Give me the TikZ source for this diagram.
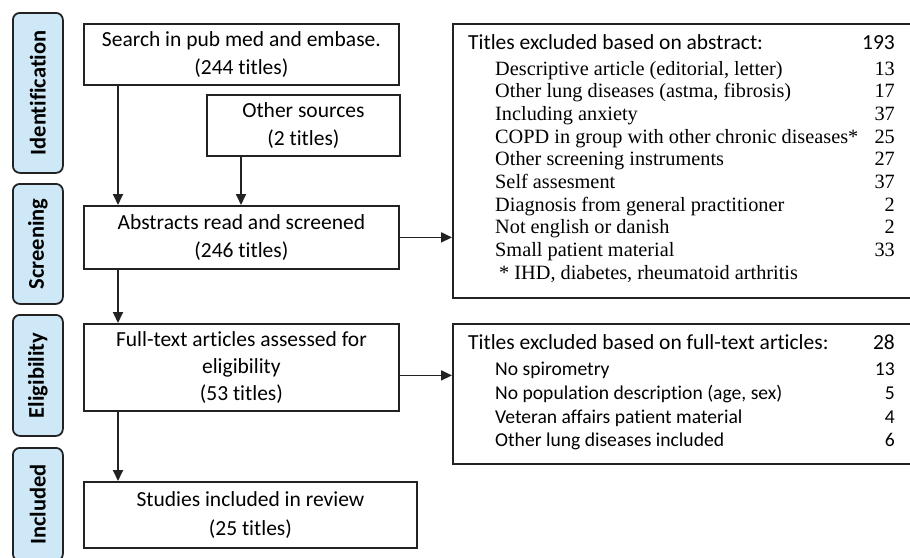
\documentclass[tikz,border=0pt]{standalone}
\usepackage{fontspec}
\setmainfont{Carlito}[Ligatures=NoCommon]
\newfontfamily\itemserif{Liberation Serif}
\usetikzlibrary{arrows.meta}
\definecolor{phaseblue}{HTML}{CFE8F8}
\definecolor{ink}{HTML}{222222}
\begin{document}
\begin{tikzpicture}[x=1pt,y=-1pt,
  box/.style={draw=ink, line width=1.8pt, fill=white, align=center,
    font=\fontsize{21.5}{28.5}\selectfont, inner sep=0pt, anchor=north west},
  phase/.style={draw=ink, line width=1.8pt, fill=phaseblue, rounded corners=7pt,
    anchor=north west, inner sep=0pt},
  phasetext/.style={rotate=90, font=\bfseries\fontsize{22.5}{26}\selectfont},
  exbox/.style={draw=ink, line width=1.8pt, fill=white},
  arr/.style={-{Triangle[length=11pt,width=10pt]}, line width=1.8pt, draw=ink},
  hdr/.style={anchor=base west, inner sep=0pt, font=\fontsize{21.5}{24}\selectfont},
  num/.style={anchor=base east, inner sep=0pt, font=\fontsize{21.5}{24}\selectfont},
  sitem/.style={anchor=base west, inner sep=0pt, font=\itemserif\fontsize{20.3}{22}\selectfont},
  snum/.style={anchor=base east, inner sep=0pt, font=\itemserif\fontsize{20.3}{22}\selectfont},
  fitem/.style={anchor=base west, inner sep=0pt, font=\fontsize{19.6}{22}\selectfont},
  fnum/.style={anchor=base east, inner sep=0pt, font=\fontsize{19.6}{22}\selectfont}]
\useasboundingbox (0,0) rectangle (910,557);
\clip (0,0) rectangle (910,557);

% phase labels
\node[phase, minimum width=50pt, minimum height=160pt] (pid) at (12,12) {};
\node[phasetext] (tid) at (pid.center) {Identification};
\node[phase, minimum width=50pt, minimum height=120pt] (psc) at (12,183) {};
\node[phasetext] (tsc) at (psc.center) {Screening};
\node[phase, minimum width=50pt, minimum height=121pt] (pel) at (12,314) {};
\node[phasetext] (tel) at (pel.center) {Eligibility};
\node[phase, minimum width=50pt, minimum height=113pt] (pin) at (12,447) {};
\node[phasetext] (tin) at (pin.center) {Included};

% main boxes
\node[box, minimum width=315pt, minimum height=61pt] (search) at (83,23)
  {Search in pub med and embase.\\(244 titles)};
\node[box, minimum width=193pt, minimum height=61pt] (other) at (206,94)
  {Other sources\\(2 titles)};
\node[box, minimum width=315pt, minimum height=63pt] (abs) at (83,205)
  {Abstracts read and screened\\(246 titles)};
\node[box, minimum width=315pt, minimum height=87pt, font=\fontsize{21.5}{27}\selectfont] (full) at (83,323)
  {Full-text articles assessed for\\eligibility\\(53 titles)};
\node[box, minimum width=333pt, minimum height=66pt] (incl) at (83,481)
  {Studies included in review\\(25 titles)};

% exclusion boxes
\node[exbox, anchor=north west, minimum width=470pt, minimum height=274pt] (ex1) at (452,23) {};
\node[exbox, anchor=north west, minimum width=470pt, minimum height=140pt] (ex2) at (452,323) {};

% connectors
\draw[arr] ([xshift=35pt]search.south west) -- ([xshift=35pt]abs.north west);
\draw[arr] ([xshift=35pt]other.south west) -- ([xshift=35pt]other.south west |- abs.north);
\draw[arr] (abs.east) -- (abs.east -| ex1.west);
\draw[arr] ([yshift=-8pt]full.east) -- ([yshift=-8pt]full.east -| ex2.west);
\draw[arr] ([xshift=35pt]abs.south west) -- ([xshift=35pt]full.north west);
\draw[arr] ([xshift=35pt]full.south west) -- ([xshift=35pt]incl.north west);

% exclusion text 1
\node[hdr] (h1) at (468,49) {Titles excluded based on abstract:};
\node[num] (h1n) at (895,49) {193};
\node[sitem] (a1) at (495,75.0) {Descriptive article (editorial, letter)};
\node[snum] (a1n) at (895,75.0) {13};
\node[sitem] (a2) at (495,97.7) {Other lung diseases (astma, fibrosis)};
\node[snum] (a2n) at (895,97.7) {17};
\node[sitem] (a3) at (495,120.4) {Including anxiety};
\node[snum] (a3n) at (895,120.4) {37};
\node[sitem] (a4) at (495,143.1) {COPD in group with other chronic diseases*};
\node[snum] (a4n) at (895,143.1) {25};
\node[sitem] (a5) at (495,165.8) {Other screening instruments};
\node[snum] (a5n) at (895,165.8) {27};
\node[sitem] (a6) at (495,188.5) {Self assesment};
\node[snum] (a6n) at (895,188.5) {37};
\node[sitem] (a7) at (495,211.2) {Diagnosis from general practitioner};
\node[snum] (a7n) at (895,211.2) {2};
\node[sitem] (a8) at (495,233.9) {Not english or danish};
\node[snum] (a8n) at (895,233.9) {2};
\node[sitem] (a9) at (495,256.6) {Small patient material};
\node[snum] (a9n) at (895,256.6) {33};
\node[sitem] (a10) at (499,279.3) {* IHD, diabetes, rheumatoid arthritis};

% exclusion text 2
\node[hdr] (h2) at (468,349) {Titles excluded based on full-text articles:};
\node[num] (h2n) at (895,349) {28};
\node[fitem] (b1) at (495,375) {No spirometry};
\node[fnum] (b1n) at (895,375) {13};
\node[fitem] (b2) at (495,399) {No population description (age, sex)};
\node[fnum] (b2n) at (895,399) {5};
\node[fitem] (b3) at (495,423) {Veteran affairs patient material};
\node[fnum] (b3n) at (895,423) {4};
\node[fitem] (b4) at (495,446) {Other lung diseases included};
\node[fnum] (b4n) at (895,446) {6};
\end{tikzpicture}
\end{document}
